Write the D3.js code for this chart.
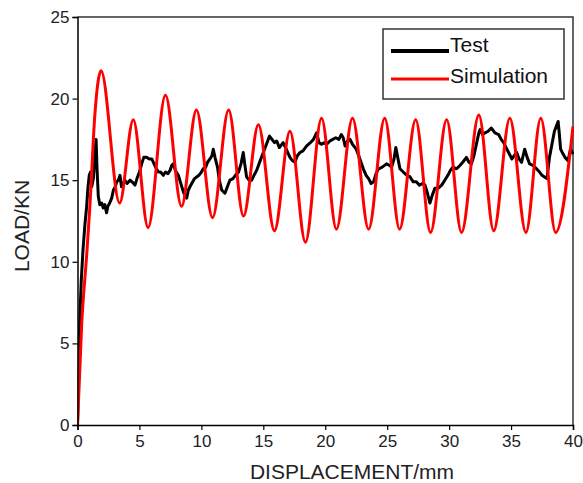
<!DOCTYPE html>
<html>
<head>
<meta charset="utf-8">
<script src="https://cdn.jsdelivr.net/npm/d3@7"></script>
<style>
  html, body { margin: 0; padding: 0; background: #fff; }
  svg { display: block; font-family: "Liberation Sans", Arial, sans-serif; }
</style>
</head>
<body>
<svg id="chart" width="583" height="483"></svg>
<script>
// ---- data ----
const seriesNames = ["Test", "Simulation"];
const xTicks = [0, 5, 10, 15, 20, 25, 30, 35, 40];
const yTicks = [0, 5, 10, 15, 20, 25];
const xTitle = "DISPLACEMENT/mm";
const yTitle = "LOAD/KN";

const simX = [0, 0.34, 0.74, 1.0, 1.4, 1.9, 3.4, 4.5, 5.7, 7.1, 8.4, 9.6, 10.9, 12.2, 13.4, 14.6, 15.9, 17.15, 18.4, 19.7, 20.9, 22.2, 23.5, 24.8, 26.0, 27.3, 28.5, 29.8, 31.0, 32.4, 33.6, 34.9, 36.2, 37.4, 38.6, 40];
const simY = [0, 6.2, 10.4, 13.4, 19.0, 21.7, 13.6, 18.7, 12.1, 20.2, 13.4, 19.3, 12.7, 19.3, 12.8, 18.4, 11.9, 18.0, 11.2, 18.8, 12.0, 18.8, 12.0, 18.8, 12.0, 18.7, 11.8, 18.7, 11.8, 19.0, 11.9, 18.8, 11.8, 18.8, 11.8, 18.3];

const testX = [0, 0.08, 0.18, 0.3, 0.45, 0.6, 0.74, 0.85, 0.95, 1.05, 1.15, 1.28, 1.4, 1.5, 1.58, 1.68, 1.8, 1.95, 2.08, 2.2, 2.35, 2.45, 2.6, 2.76, 2.9, 3.05, 3.16, 3.3, 3.43, 3.55, 3.7, 3.83, 4.0, 4.24, 4.4, 4.64, 4.8, 5.0, 5.18, 5.35, 5.58, 5.8, 6.0, 6.12, 6.3, 6.52, 6.7, 6.93, 7.1, 7.3, 7.47, 7.6, 7.73, 7.9, 8.14, 8.3, 8.54, 8.7, 8.81, 8.95, 9.08, 9.3, 9.45, 9.62, 9.8, 10.0, 10.15, 10.35, 10.5, 10.69, 10.85, 10.96, 11.1, 11.3, 11.45, 11.64, 11.9, 12.1, 12.3, 12.55, 12.85, 13.0, 13.2, 13.38, 13.5, 13.65, 13.85, 14.06, 14.25, 14.46, 14.7, 15.0, 15.2, 15.5, 15.7, 15.9, 16.08, 16.3, 16.6, 16.85, 17.15, 17.35, 17.55, 17.75, 17.96, 18.2, 18.5, 18.8, 19.05, 19.3, 19.5, 19.7, 19.9, 20.1, 20.38, 20.6, 20.85, 21.1, 21.3, 21.45, 21.6, 21.8, 22.0, 22.2, 22.5, 22.75, 23.07, 23.3, 23.5, 23.7, 23.9, 24.1, 24.3, 24.6, 24.95, 25.2, 25.36, 25.55, 25.7, 25.85, 26.03, 26.3, 26.6, 26.85, 27.1, 27.35, 27.6, 27.85, 28.05, 28.25, 28.45, 28.65, 28.85, 29.1, 29.4, 29.65, 29.9, 30.1, 30.3, 30.6, 30.87, 31.1, 31.4, 31.6, 31.8, 32.0, 32.2, 32.4, 32.5, 32.7, 32.9, 33.15, 33.4, 33.7, 34.0, 34.2, 34.4, 34.6, 34.8, 35.07, 35.25, 35.45, 35.65, 35.85, 36.1, 36.3, 36.5, 36.8, 37.05, 37.3, 37.5, 37.7, 37.9, 38.1, 38.3, 38.5, 38.65, 38.8, 38.9, 39.0, 39.2, 39.35, 39.6, 39.8, 40.0];
const testY = [0, 2.8, 6.3, 8.8, 10.8, 12.3, 13.4, 14.6, 15.3, 15.5, 14.6, 15.1, 16.6, 17.5, 15.6, 14.0, 13.5, 13.6, 13.3, 13.5, 13.0, 13.4, 13.6, 13.9, 14.4, 14.6, 14.9, 15.0, 15.3, 14.6, 14.8, 15.0, 14.8, 15.0, 14.9, 14.7, 15.1, 15.5, 16.0, 16.4, 16.4, 16.3, 16.3, 16.1, 15.8, 15.5, 15.5, 15.3, 15.5, 15.4, 15.6, 15.9, 16.0, 15.6, 15.3, 14.9, 14.3, 14.0, 13.9, 14.4, 14.6, 14.9, 15.1, 15.2, 15.3, 15.5, 15.7, 15.8, 16.1, 16.3, 16.5, 16.9, 16.4, 15.8, 15.0, 14.4, 14.2, 14.6, 15.0, 15.1, 15.4, 15.5, 16.0, 16.7, 16.0, 15.2, 15.0, 15.0, 15.3, 15.6, 16.1, 16.7, 17.1, 17.7, 17.5, 17.3, 17.4, 17.0, 17.3, 16.9, 16.4, 16.2, 16.1, 16.5, 16.7, 16.8, 17.1, 17.3, 17.5, 17.9, 17.3, 17.2, 17.3, 17.2, 17.4, 17.5, 17.6, 17.5, 17.8, 17.6, 17.1, 17.4, 17.5, 17.2, 16.9, 16.4, 15.7, 15.3, 15.1, 14.8, 14.9, 15.4, 15.7, 15.8, 16.0, 15.9, 15.8, 16.3, 17.0, 16.4, 15.7, 15.5, 15.3, 15.2, 14.9, 14.9, 14.7, 14.8, 14.7, 14.2, 13.6, 14.1, 14.5, 14.5, 14.7, 15.0, 15.3, 15.6, 15.8, 15.7, 15.9, 16.1, 16.4, 16.1, 16.0, 16.5, 17.2, 17.9, 18.1, 17.8, 17.9, 18.0, 18.2, 17.9, 17.8, 17.5, 17.3, 17.0, 16.7, 16.3, 16.5, 16.7, 16.3, 16.1, 16.9, 16.4, 16.0, 15.9, 15.7, 15.5, 15.3, 15.2, 15.1, 16.4, 17.2, 18.0, 18.3, 18.6, 17.8, 16.9, 16.6, 16.4, 16.2, 16.9, 16.6];

// ---- layout ----
const W = 583, H = 483;
const plot = { left: 77.5, right: 573, top: 17, bottom: 425 };

const svg = d3.select("#chart");
const x = d3.scaleLinear().domain([0, 40]).range([plot.left, plot.right]);
const y = d3.scaleLinear().domain([0, 25]).range([plot.bottom, plot.top]);

// frame (top and right)
svg.append("path")
  .attr("d", `M${plot.left},${plot.top}H${plot.right}V${plot.bottom}`)
  .attr("fill", "none").attr("stroke", "#333").attr("stroke-width", 1.5);

const clip = svg.append("clipPath").attr("id", "clip")
  .append("rect").attr("x", plot.left).attr("y", plot.top - 5)
  .attr("width", plot.right - plot.left + 1).attr("height", plot.bottom - plot.top + 5);

const line = d3.line().x(d => x(d[0])).y(d => y(d[1]));
const testData = testX.map((v, i) => [v, testY[i]]);
const simData = simX.map((v, i) => [v, simY[i]]);

const g = svg.append("g").attr("clip-path", "url(#clip)");
g.append("path").datum(testData)
  .attr("d", line.curve(d3.curveLinear))
  .attr("fill", "none").attr("stroke", "#000").attr("stroke-width", 3)
  .attr("stroke-linejoin", "round");
g.append("path").datum(simData)
  .attr("d", d3.line().x(d => x(d[0])).y(d => y(d[1])).curve(d3.curveMonotoneX))
  .attr("fill", "none").attr("stroke", "#ff0000").attr("stroke-width", 3)
  .attr("stroke-linejoin", "round");

// axes
const xAxis = svg.append("g").attr("transform", `translate(0,${plot.bottom})`)
  .call(d3.axisBottom(x).tickValues(xTicks).tickSize(5).tickPadding(5).tickFormat(d3.format("d")));
const yAxis = svg.append("g").attr("transform", `translate(${plot.left},0)`)
  .call(d3.axisLeft(y).tickValues(yTicks).tickSize(5).tickPadding(3).tickFormat(d3.format("d")));
[xAxis, yAxis].forEach(a => {
  a.select(".domain").attr("stroke", "#000").attr("stroke-width", 1.5);
  a.selectAll(".tick line").attr("stroke", "#000").attr("stroke-width", 1.2);
  a.selectAll(".tick text").attr("fill", "#222").style("font-size", "17px")
    .style("font-family", "'Liberation Sans', Arial, sans-serif");
});

// titles
svg.append("text").attr("x", 352).attr("y", 479).attr("text-anchor", "middle")
  .style("font-size", "21px").attr("fill", "#222").text(xTitle);
svg.append("text").attr("transform", "translate(29,226) rotate(-90)").attr("text-anchor", "middle")
  .style("font-size", "21px").attr("fill", "#222").text(yTitle);

// legend
const lg = svg.append("g");
lg.append("rect").attr("x", 383).attr("y", 29).attr("width", 181).attr("height", 70)
  .attr("fill", "#fff").attr("stroke", "#333").attr("stroke-width", 1.5);
const colors = ["#000", "#ff0000"];
const legY = [51, 79];
seriesNames.forEach((name, i) => {
  lg.append("line").attr("x1", 391).attr("x2", 449).attr("y1", legY[i]).attr("y2", legY[i])
    .attr("stroke", colors[i]).attr("stroke-width", i === 0 ? 4 : 3);
  lg.append("text").attr("x", 450).attr("y", legY[i] + 1 + (i === 0 ? 0 : 3))
    .style("font-size", "21px").attr("fill", "#111").text(name);
});
</script>
</body>
</html>
